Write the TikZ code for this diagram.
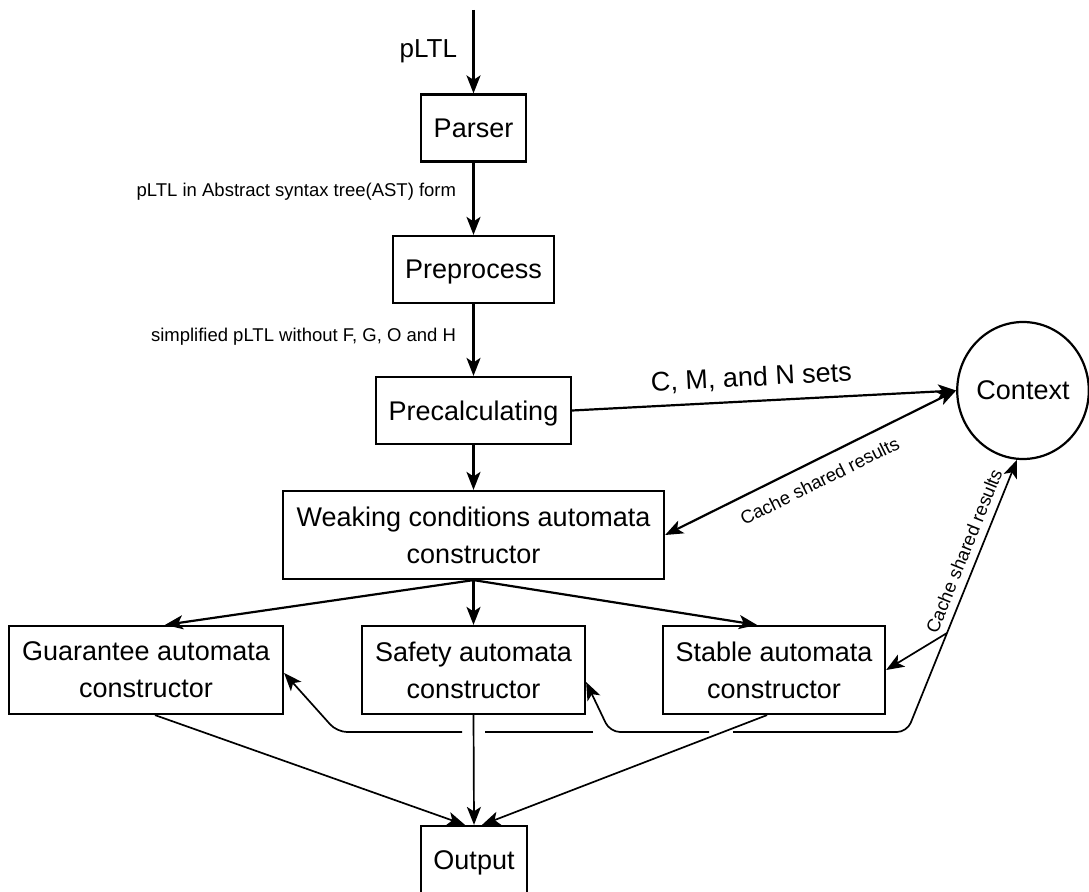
\documentclass[tikz,border=0pt]{standalone}
\usepackage{fontspec}
\setmainfont{Liberation Sans}
\usetikzlibrary{arrows.meta,shapes.geometric}

\tikzset{
  stage/.style={draw, line width=2.2pt, minimum height=67pt, inner sep=0pt,
    text depth=0pt, font=\fontsize{27}{37}\selectfont},
  builder/.style={draw, line width=2.2pt, minimum height=88pt, inner sep=0pt,
    align=center, font=\fontsize{27}{37}\selectfont},
  tip/.tip={Stealth[length=18pt, width=14pt, inset=4.5pt]},
  flow/.style={line width=2.2pt, -tip},
  link/.style={line width=1.7pt},
  note/.style={font=\fontsize{18.5}{22}\selectfont},
  big/.style={font=\fontsize{27}{32}\selectfont}
}

\begin{document}
\begin{tikzpicture}[x=1pt, y=-1pt]
        \useasboundingbox (0,0) rectangle (1089,891);

        % pipeline
        \node[stage, minimum width=105pt] (parser) at (473.5,128) {Parser};
        \node[stage, minimum width=161pt] (prep) at (473.5,269.5) {Preprocess};
        \node[stage, minimum width=195pt] (precalc) at (473.5,410.5) {Precalculating};
        \node[builder, minimum width=381pt] (weak) at (473.5,535) {Weaking conditions automata\\constructor};
        \node[builder, minimum width=274pt] (guar) at (146,670) {Guarantee automata\\constructor};
        \node[builder, minimum width=223pt] (safe) at (473.5,670) {Safety automata\\constructor};
        \node[builder, minimum width=222pt] (stab) at (774,670) {Stable automata\\constructor};
        \node[stage, minimum width=106pt, minimum height=68pt] (out) at (474,860) {Output};
        \node[draw, ellipse, line width=2.2pt, inner sep=0pt, minimum width=130pt,
          minimum height=137pt, big] (ctx) at (1023,390.5) {Context};

        \coordinate (src) at (473.5,10);
        \draw[flow] (src) -- node[left=12pt, font=\fontsize{26}{30}\selectfont] {pLTL} (parser);
        \draw[flow] (parser) -- node[note, left=13pt, pos=0.4] {pLTL in Abstract syntax tree(AST) form} (prep);
        \draw[flow] (prep) -- node[note, left=13pt, pos=0.46] {simplified pLTL without F, G, O and H} (precalc);
        \draw[flow] (precalc) -- (weak);
        \draw[flow] (precalc.east) -- node[big, sloped, above=7pt, pos=0.47] {C, M, and N sets} (ctx.west);
        \draw[flow, tip-tip] (weak.east) -- node[note, sloped, below=9pt] {Cache shared results} (ctx.west);

        \draw[flow] (weak.south) -- ([xshift=19pt]guar.north);
        \draw[flow] (weak.south) -- (safe.north);
        \draw[flow] (weak.south) -- ([xshift=-17pt]stab.north);

        \draw[link, -tip] ([xshift=9pt]guar.south) -- ([xshift=-9pt]out.north);
        \draw[link, -tip] (safe.south) -- (out.north);
        \draw[link, -tip] ([xshift=-7pt]stab.south) -- ([xshift=8pt]out.north);

        % shared cache routing, with gaps where lines cross
        \coordinate (kink) at (947,633);
        \coordinate (c1) at (907,732);
        \coordinate (jr) at (733,732);
        \coordinate (jl) at (709,732);
        \coordinate (c2) at (610,732);
        \coordinate (gstart) at (593,732);
        \coordinate (hr) at (485,732);
        \coordinate (hl) at (462,732);
        \coordinate (c3) at (337,732);

        \draw[link, -tip] (kink) -- node[note, sloped, above=4pt, pos=0.44] {Cache shared results} (ctx.-95);
        \draw[link, -tip] (kink) -- (stab.east);
        \draw[link, rounded corners=10pt] (kink) -- (c1) -- (jr);
        \draw[link, -tip, rounded corners=10pt] (jl) -- (c2) -- ([yshift=-12pt]safe.east);
        \draw[link] (gstart) -- (hr);
        \draw[link, -tip, rounded corners=10pt] (hl) -- (c3) -- ([yshift=-3pt]guar.east);
\end{tikzpicture}
\end{document}
